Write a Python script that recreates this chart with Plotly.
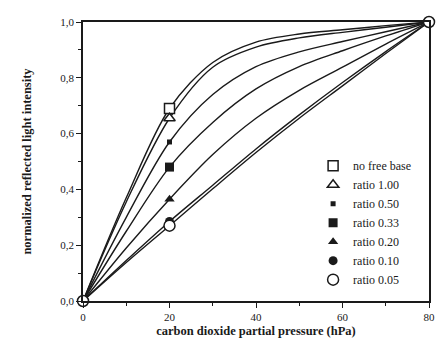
import plotly.graph_objects as go

# Measured points (x = CO2 partial pressure, hPa)
pressure_measured = [0, 20, 80]
no_free_base = [0.0, 0.69, 1.0]
ratio_100 = [0.0, 0.655, 1.0]
ratio_050 = [0.0, 0.57, 1.0]
ratio_033 = [0.0, 0.48, 1.0]
ratio_020 = [0.0, 0.365, 1.0]
ratio_010 = [0.0, 0.285, 1.0]
ratio_005 = [0.0, 0.27, 1.0]

# Fitted response curves
pressure_curve = [0, 10, 20, 30, 40, 50, 60, 70, 80]
curve_no_free_base = [0.0, 0.37, 0.69, 0.855, 0.928, 0.957, 0.972, 0.987, 1.0]
curve_ratio_100 = [0.0, 0.355, 0.655, 0.838, 0.91, 0.943, 0.963, 0.981, 1.0]
curve_ratio_050 = [0.0, 0.30, 0.57, 0.74, 0.84, 0.893, 0.93, 0.965, 1.0]
curve_ratio_033 = [0.0, 0.25, 0.48, 0.64, 0.76, 0.84, 0.897, 0.95, 1.0]
curve_ratio_020 = [0.0, 0.19, 0.365, 0.525, 0.655, 0.755, 0.838, 0.921, 1.0]
curve_ratio_010 = [0.0, 0.145, 0.285, 0.415, 0.545, 0.667, 0.783, 0.894, 1.0]
curve_ratio_005 = [0.0, 0.138, 0.27, 0.402, 0.532, 0.655, 0.771, 0.887, 1.0]

labels = ["no free base", "ratio 1.00", "ratio 0.50", "ratio 0.33",
          "ratio 0.20", "ratio 0.10", "ratio 0.05"]

# (name, measured, curve, symbol, size, hollow)
series = [
    (labels[0], no_free_base, curve_no_free_base, "square", 10, True),
    (labels[1], ratio_100, curve_ratio_100, "triangle-up", 10, True),
    (labels[2], ratio_050, curve_ratio_050, "square", 5, False),
    (labels[3], ratio_033, curve_ratio_033, "square", 9, False),
    (labels[4], ratio_020, curve_ratio_020, "triangle-up", 9, False),
    (labels[5], ratio_010, curve_ratio_010, "circle", 9, False),
    (labels[6], ratio_005, curve_ratio_005, "circle", 11, True),
]

INK = "#1a1a1a"
FONT = "Liberation Serif"

fig = go.Figure()

for name, meas, curve, sym, size, hollow in series:
    fig.add_trace(go.Scatter(
        x=pressure_curve, y=curve, mode="lines",
        line=dict(color=INK, width=1.4, shape="spline", smoothing=0.9),
        showlegend=False, hoverinfo="skip", cliponaxis=False,
    ))

for i, (name, meas, curve, sym, size, hollow) in enumerate(series):
    # only the last series shows its end points; the others share them
    last = i == len(series) - 1
    xs = pressure_measured if last else pressure_measured[1:2]
    ys = meas if last else meas[1:2]
    fig.add_trace(go.Scatter(
        x=xs, y=ys, mode="markers", name=name,
        marker=dict(symbol=sym, size=size,
                    color="white" if hollow else INK,
                    line=dict(color=INK, width=1.5 if hollow else 0)),
        cliponaxis=False,
    ))

axis_common = dict(
    showline=True, linecolor=INK, linewidth=1.5, mirror=True,
    showgrid=False, zeroline=False, ticks="outside", ticklen=5,
    tickwidth=1.2, tickcolor=INK, automargin=False,
    tickfont=dict(family=FONT, size=11, color=INK),
)

fig.update_xaxes(
    range=[0, 80], tickvals=[0, 20, 40, 60, 80],
    minor=dict(tickvals=[10, 30, 50, 70], ticks="outside", ticklen=3,
               tickcolor=INK, tickwidth=1.2),
    title=dict(text="<b>carbon dioxide partial pressure (hPa)</b>",
               font=dict(family=FONT, size=12.5, color=INK), standoff=8),
    **axis_common,
)
fig.update_yaxes(
    range=[0, 1], tickvals=[0, 0.2, 0.4, 0.6, 0.8, 1.0], tickformat=".1f",
    minor=dict(tickvals=[0.1, 0.3, 0.5, 0.7, 0.9], ticks="outside", ticklen=3,
               tickcolor=INK, tickwidth=1.2),
    title=dict(text="<b>normalized reflected light intensity</b>",
               font=dict(family=FONT, size=12.5, color=INK), standoff=26),
    **axis_common,
)

fig.update_layout(
    width=437, height=338,
    margin=dict(l=83, r=8, t=22, b=37),
    paper_bgcolor="white", plot_bgcolor="white",
    separators=",.",
    font=dict(family=FONT, color=INK),
    showlegend=True,
    legend=dict(x=0.665, y=0.537, xanchor="left", yanchor="top",
                bgcolor="rgba(0,0,0,0)", borderwidth=0,
                font=dict(family=FONT, size=12, color=INK),
                itemwidth=30, tracegroupgap=0),
)

fig.write_html("out.html")
